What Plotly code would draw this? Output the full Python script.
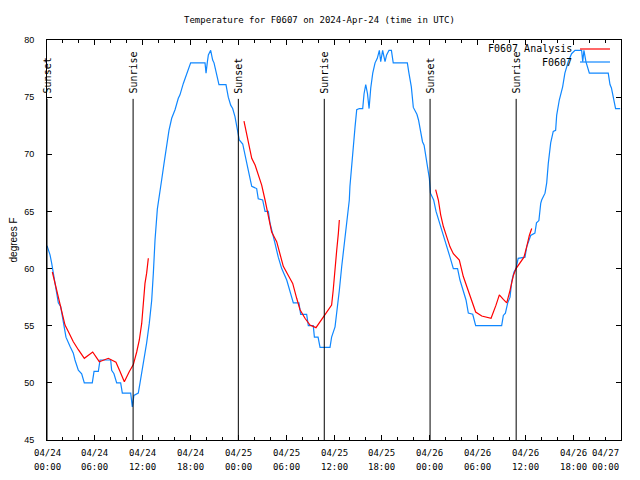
import pandas as pd
import plotly.graph_objects as go

START = pd.Timestamp("2024-04-24 00:00")

# Observed F0607 temperature (hours since 04/24 00:00 UTC, degrees F)
obs_hours = [0.0, 0.38, 0.59, 0.88, 1.21, 1.42, 1.71, 2.05, 2.38, 2.88, 3.3, 3.51, 3.93, 4.35, 4.68,
             5.68, 5.9, 6.44, 6.65, 7.99, 8.11, 8.4, 8.74, 9.24, 9.45, 10.5, 10.7, 10.9, 11.45, 11.67,
             11.96, 12.2, 12.5, 12.83, 13.13, 13.34, 13.55, 13.84, 14.09, 14.38, 14.68, 15.01, 15.3,
             15.64, 16.06, 16.47, 16.68, 17.1, 17.52, 18.02, 19.82, 19.95, 20.1, 20.24, 20.53, 20.78,
             20.95, 21.28, 21.57, 22.45, 22.74, 23.04, 23.29, 23.58, 23.92, 24.12, 24.55, 24.84, 25.25,
             25.68, 26.3, 26.5, 27.05, 27.35, 27.76, 27.97, 28.31, 28.6, 29.01, 29.44, 30.07, 30.48,
             30.9, 31.6, 31.82, 32.57, 32.78, 33.4, 33.54, 34.0, 34.25, 35.5, 35.7, 36.13, 36.34, 36.67,
             36.97, 37.26, 37.5, 37.71, 37.92, 38.0, 38.22, 38.43, 38.64, 38.85, 39.18, 39.6, 39.77,
             39.98, 40.2, 40.4, 40.61, 40.86, 41.15, 41.43, 41.69, 41.86, 42.1, 42.4, 42.6, 42.9, 43.2,
             43.43, 45.2, 45.4, 45.7, 45.95, 46.4, 46.6, 46.87, 47.1, 47.3, 47.6, 47.96, 48.1, 48.3,
             48.5, 48.8, 49.2, 49.63, 50.1, 50.55, 50.97, 51.5, 51.8, 52.2, 52.56, 52.85, 53.4, 53.77,
             57.03, 57.24, 57.5, 57.79, 58.08, 58.29, 58.58, 58.83, 59.1, 59.96, 60.17, 60.67, 61.2,
             61.4, 61.7, 61.93, 62.05, 62.47, 62.68, 62.88, 63.18, 63.5, 63.8, 63.93, 64.26, 64.68,
             64.96, 65.38, 65.8, 66.23, 67.06, 67.2, 67.35, 67.6, 68.03, 70.4, 70.62, 70.8, 71.1,
             71.32, 71.9]
obs_temps = [62.0, 61.2, 60.45, 59.3, 57.8, 57.0, 56.7, 55.2, 54.0, 53.2, 52.6, 52.0, 51.1, 50.8, 50.0,
             50.0, 51.0, 51.0, 52.0, 52.0, 51.1, 50.8, 50.0, 50.0, 49.1, 49.1, 47.9, 48.9, 49.1, 50.0,
             51.1, 52.0, 53.5, 55.2, 57.2, 59.6, 62.5, 65.2, 66.6, 67.75, 69.2, 70.8, 72.1,
             73.15, 73.9, 74.9, 75.2, 76.2, 77.1, 78.0, 78.0, 77.1, 78.0, 78.7, 79.1, 78.25,
             78.0, 77.1, 76.1, 76.1, 75.0, 74.3, 74.0, 73.3, 72.1, 71.25, 70.9, 69.8, 68.6,
             67.2, 67.0, 66.1, 66.0, 65.0, 65.0, 64.0, 62.9, 62.2, 61.0, 60.0, 59.0, 58.1,
             57.0, 57.0, 56.0, 56.0, 55.0, 55.0, 54.0, 54.0, 53.1, 53.1, 54.0, 54.9, 56.4, 58.1,
             60.2, 61.9, 63.4, 64.8, 66.0, 67.2, 69.2, 71.25, 72.4, 73.9, 74.0, 74.0, 75.3,
             76.1, 75.3, 74.0, 75.8, 77.1, 78.0, 78.4, 79.1, 78.1, 79.1, 78.1, 78.7, 79.1, 79.1,
             78.0, 78.0, 77.1, 75.9, 74.1, 73.5, 73.0, 72.1, 71.1, 70.8, 69.4, 67.9, 66.6, 66.2,
             66.0, 65.0, 64.1, 63.1, 62.2, 61.0, 60.0, 60.0, 59.0, 58.1, 57.25, 56.1, 56.0, 55.0,
             55.0, 55.9, 56.1, 57.0, 57.5, 58.85, 59.7, 60.0, 60.9, 61.0, 61.9, 62.9, 63.1,
             64.0, 64.2, 65.7, 66.0, 66.6, 67.5, 69.2, 71.0, 72.0, 72.1, 73.4, 74.75, 75.9,
             77.1, 78.1, 78.8, 79.1, 79.1, 78.1, 79.1, 78.1, 77.1, 77.1, 76.1, 75.8, 74.9,
             74.0, 74.0]

# Analysis runs (three segments)
ana1_hours = [0.67, 1.0, 1.42, 1.84, 2.26, 2.67, 3.3, 3.93, 4.68, 5.73, 6.56, 7.69, 8.65, 9.16, 9.7,
              10.33, 10.83, 11.25, 11.58, 11.88, 12.08, 12.29, 12.5, 12.71]
ana1_temps = [59.7, 58.7, 57.5, 56.2, 55.06, 54.5, 53.6, 52.9, 52.15, 52.7, 51.85, 52.15, 51.8, 51.0, 50.1,
              51.0, 51.6, 52.7, 53.75, 55.2, 57.0, 58.7, 59.6, 60.9]
ana2_hours = [24.71, 25.05, 25.34, 25.68, 26.1, 26.5, 26.93, 27.35, 27.76, 28.18, 28.81, 29.23, 29.64,
              30.27, 30.82, 31.32, 31.74, 32.36, 32.99, 33.74, 34.25, 35.0, 35.7, 35.9, 36.13, 36.34,
              36.55, 36.67]
ana2_temps = [72.9, 71.8, 70.8, 69.65, 69.06, 68.3, 67.3, 66.0, 64.5, 63.2, 62.35, 61.2, 60.2,
              59.4, 58.7, 57.4, 56.4, 55.65, 55.06, 54.83, 55.35, 56.1, 56.8, 58.1, 60.2, 61.6,
              63.1, 64.25]
ana3_hours = [48.75, 49.09, 49.38, 49.71, 50.13, 50.55, 50.97, 51.72, 52.22, 52.85, 53.27, 53.77, 54.53,
              55.7, 56.32, 56.74, 57.24, 57.67, 58.08, 58.5, 58.83, 59.33, 59.83, 60.17, 60.5, 60.8]
ana3_temps = [66.9, 66.0, 64.7, 63.7, 62.8, 61.9, 61.3, 60.75, 59.3, 58.1, 57.25, 56.2, 55.85,
              55.65, 56.8, 57.7, 57.3, 57.0, 58.1, 59.4, 60.0, 60.46, 61.0, 61.9, 62.9, 63.5]

# Sun events (hours since start)
event_names = ["Sunset", "Sunrise", "Sunset", "Sunrise", "Sunset", "Sunrise"]
event_hours = [0.0, 10.8, 24.0, 34.78, 48.05, 58.85]

tick_hours = list(range(0, 73, 6))
tick_dates = ["04/24", "04/24", "04/24", "04/24", "04/25", "04/25", "04/25", "04/25",
              "04/26", "04/26", "04/26", "04/26", "04/27"]
tick_times = ["00:00", "06:00", "12:00", "18:00", "00:00", "06:00", "12:00", "18:00",
              "00:00", "06:00", "12:00", "18:00", "00:00"]
y_ticks = [45, 50, 55, 60, 65, 70, 75, 80]


def to_time(hours):
    return [START + pd.Timedelta(hours=h) if h is not None else None for h in hours]


ana_hours = ana1_hours + [None] + ana2_hours + [None] + ana3_hours
ana_temps = ana1_temps + [None] + ana2_temps + [None] + ana3_temps

BLUE = "#0f87ff"
RED = "#ff0000"
MONO = "DejaVu Sans Mono"
SANS = "Liberation Sans"

fig = go.Figure()
fig.add_trace(go.Scatter(x=to_time(obs_hours), y=obs_temps, mode="lines",
                         line=dict(color=BLUE, width=1.2), name="F0607", showlegend=False))
fig.add_trace(go.Scatter(x=to_time(ana_hours), y=ana_temps, mode="lines", connectgaps=False,
                         line=dict(color=RED, width=1.2), name="F0607 Analysis", showlegend=False))

for name, h in zip(event_names, event_hours):
    t = START + pd.Timedelta(hours=h)
    fig.add_shape(type="line", xref="x", yref="y", x0=t, x1=t, y0=45, y1=74.85,
                  line=dict(color="black", width=1))
    fig.add_annotation(x=t, y=75.15, xref="x", yref="y", text=name, textangle=-90,
                       showarrow=False, xanchor="center", yanchor="bottom",
                       font=dict(family=MONO, size=10, color="black"))

# X tick labels (two lines, gnuplot style; the last one flush with the right edge)
for i, (h, d, tm) in enumerate(zip(tick_hours, tick_dates, tick_times)):
    t = START + pd.Timedelta(hours=h)
    anchor = "right" if i == len(tick_hours) - 1 else "center"
    for txt, shift in ((d, -13), (tm, -27)):
        fig.add_annotation(x=t, y=0, xref="x", yref="paper", text=txt, showarrow=False,
                           xanchor=anchor, yanchor="middle", yshift=shift,
                           font=dict(family=MONO, size=9, color="black"))

# Legend (drawn manually, gnuplot style)
fig.add_annotation(x=0.918, y=0.9775, xref="paper", yref="paper", text="F0607 Analysis",
                   showarrow=False, xanchor="right", yanchor="middle",
                   font=dict(family=MONO, size=10, color="black"))
fig.add_annotation(x=0.918, y=0.945, xref="paper", yref="paper", text="F0607",
                   showarrow=False, xanchor="right", yanchor="middle",
                   font=dict(family=MONO, size=10, color="black"))
fig.add_shape(type="line", xref="paper", yref="paper", x0=0.9286, x1=0.9808, y0=0.9775, y1=0.9775,
              line=dict(color=RED, width=1.2))
fig.add_shape(type="line", xref="paper", yref="paper", x0=0.9286, x1=0.9808, y0=0.945, y1=0.945,
              line=dict(color=BLUE, width=1.2))

# Title and y label
fig.add_annotation(x=0.4756, y=1.05, xref="paper", yref="paper",
                   text="Temperature for F0607 on 2024-Apr-24 (time in UTC)",
                   showarrow=False, xanchor="center", yanchor="middle",
                   font=dict(family=MONO, size=9, color="black"))
fig.add_annotation(x=-0.0584, y=0.5, xref="paper", yref="paper", text="degrees F",
                   textangle=-90, showarrow=False, xanchor="center", yanchor="middle",
                   font=dict(family=SANS, size=10, color="black"))

# The page body adds an 8px offset, so the figure is 16px smaller than the window
fig.update_layout(
    width=624, height=464,
    margin=dict(l=39, r=11, t=32, b=32, autoexpand=False),
    paper_bgcolor="white", plot_bgcolor="white",
    showlegend=False,
)
fig.update_xaxes(
    type="date", automargin=False,
    range=[START, START + pd.Timedelta(hours=72)],
    tickvals=to_time(tick_hours), showticklabels=False,
    ticks="inside", ticklen=5, tickcolor="black", tickwidth=1,
    minor=dict(dtick=2 * 3600 * 1000, ticks="inside", ticklen=3, tickcolor="black", showgrid=False),
    showline=True, linecolor="black", linewidth=1, mirror="allticks",
    showgrid=False, zeroline=False,
)
fig.update_yaxes(
    range=[45, 80], tickvals=y_ticks, automargin=False,
    ticks="inside", ticklen=5, tickcolor="black", tickwidth=1,
    showline=True, linecolor="black", linewidth=1, mirror="allticks",
    showgrid=False, zeroline=False, ticklabelstandoff=10,
    tickfont=dict(family=SANS, size=9, color="black"),
)

fig.write_html("out.html")
